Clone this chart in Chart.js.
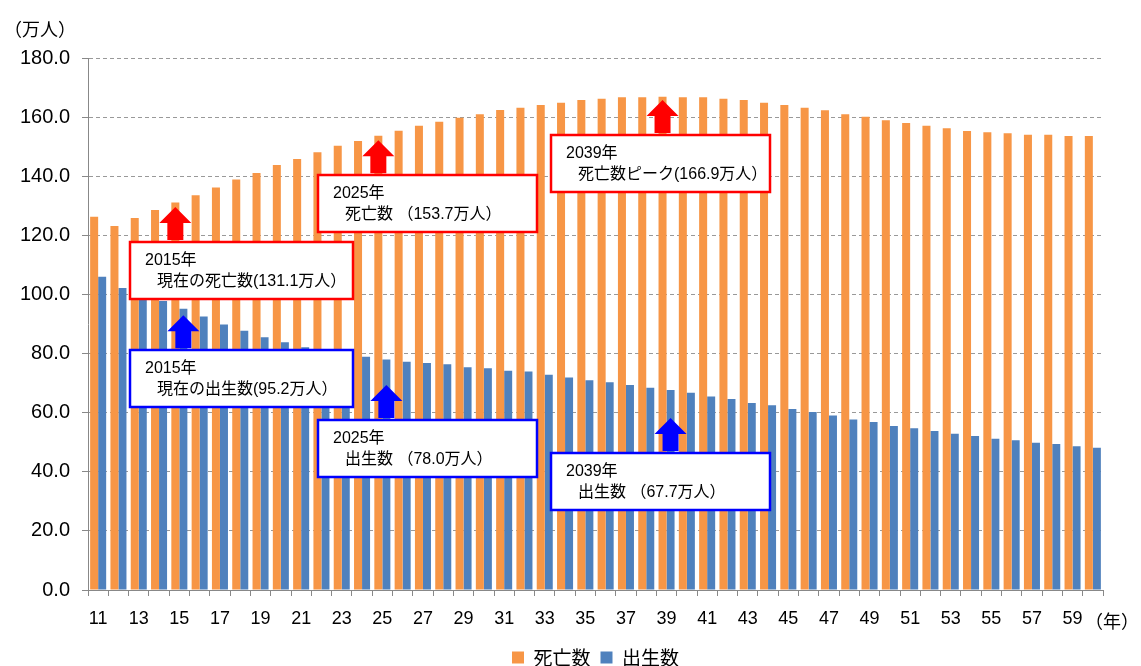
<!DOCTYPE html>
<html>
<head>
<meta charset="utf-8">
<script src="https://cdn.jsdelivr.net/npm/chart.js@4.4.1/dist/chart.umd.min.js"></script>
<style>
html, body { margin: 0; padding: 0; background: #fff; }
#wrap { width: 1141px; height: 666px; }
</style>
</head>
<body>
<div id="wrap"><canvas id="popChart"></canvas></div>
<script>
// 年（2011〜2060 の下2桁）
let years = ['11','12','13','14','15','16','17','18','19','20',
             '21','22','23','24','25','26','27','28','29','30',
             '31','32','33','34','35','36','37','38','39','40',
             '41','42','43','44','45','46','47','48','49','50',
             '51','52','53','54','55','56','57','58','59','60'];

// 死亡数（万人）
let deaths = [126.3, 123.2, 125.9, 128.6, 131.1, 133.6, 136.2, 138.9, 141.1, 143.8,
              145.8, 148.1, 150.3, 151.9, 153.7, 155.4, 157.1, 158.4, 159.8, 161.0,
              162.4, 163.2, 164.1, 164.9, 165.8, 166.2, 166.7, 166.7, 166.9, 166.7,
              166.7, 166.2, 165.8, 164.9, 164.1, 163.2, 162.3, 161.0, 160.1, 158.9,
              158.0, 157.1, 156.2, 155.3, 154.9, 154.5, 154.0, 154.0, 153.6, 153.6];

// 出生数（万人）
let births = [106.0, 102.2, 100.0, 97.8, 95.2, 92.5, 89.8, 87.7, 85.5, 83.8,
              82.1, 81.0, 79.9, 78.9, 78.0, 77.2, 76.8, 76.4, 75.4, 75.0,
              74.2, 73.9, 72.8, 71.9, 71.0, 70.3, 69.4, 68.4, 67.7, 66.7,
              65.5, 64.6, 63.3, 62.5, 61.2, 60.2, 59.0, 57.7, 56.8, 55.5,
              54.7, 53.8, 52.9, 52.1, 51.2, 50.7, 49.8, 49.4, 48.6, 48.1];

let seriesNames = ['死亡数', '出生数'];

// 吹き出し: 対象系列, 年の位置, 矢印先端の値, 箱の左端(カテゴリ位置)
let notes = [
    {series: 0, index: 4,  tip: 129.6, left: 1.57,  w: 223, color: '#FF0000', lines: ['2015年', '現在の死亡数(131.1万人）']},
    {series: 0, index: 14, tip: 152.2, left: 10.83, w: 219, color: '#FF0000', lines: ['2025年', '死亡数 （153.7万人）']},
    {series: 0, index: 28, tip: 165.8, left: 22.31, w: 219, color: '#FF0000', lines: ['2039年', '死亡数ピーク(166.9万人）']},
    {series: 1, index: 4,  tip: 93.0,  left: 1.57,  w: 223, color: '#0000FF', lines: ['2015年', '現在の出生数(95.2万人）']},
    {series: 1, index: 14, tip: 69.4,  left: 10.83, w: 219, color: '#0000FF', lines: ['2025年', '出生数 （78.0万人）']},
    {series: 1, index: 28, tip: 58.2,  left: 22.31, w: 219, color: '#0000FF', lines: ['2039年', '出生数 （67.7万人）']}
];

const JP = "'Noto Sans CJK JP'";

const notesPlugin = {
    id: 'notes',
    afterLayout(chart) {
        // 凡例はプロット領域の中央に
        const lg = chart.legend;
        lg.left = chart.chartArea.left;
        lg.right = chart.chartArea.right;
    },
    afterDatasetsDraw(chart) {
        const {ctx, scales: {x, y}} = chart;
        ctx.save();
        notes.forEach(n => {
            const bar = chart.getDatasetMeta(n.series).data[n.index];
            const ax = bar.x;
            const tipY = y.getPixelForValue(n.tip);
            // arrow
            ctx.fillStyle = n.color;
            ctx.beginPath();
            ctx.moveTo(ax, tipY);
            ctx.lineTo(ax + 16, tipY + 16);
            ctx.lineTo(ax + 8, tipY + 16);
            ctx.lineTo(ax + 8, tipY + 33);
            ctx.lineTo(ax - 8, tipY + 33);
            ctx.lineTo(ax - 8, tipY + 16);
            ctx.lineTo(ax - 16, tipY + 16);
            ctx.closePath();
            ctx.fill();
            // box
            const bx = Math.round(x.getPixelForValue(n.left));
            const by = Math.round(tipY + 35);
            ctx.fillStyle = '#fff';
            ctx.fillRect(bx, by, n.w, 57);
            ctx.strokeStyle = n.color;
            ctx.lineWidth = 2.5;
            ctx.strokeRect(bx, by, n.w, 57);
            ctx.fillStyle = '#000';
            ctx.textBaseline = 'middle';
            ctx.textAlign = 'left';
            ctx.font = "16px 'Liberation Sans', " + JP;
            ctx.fillText(n.lines[0], bx + 15, by + 19);
            ctx.fillText(n.lines[1], bx + 27, by + 40);
        });
        // unit labels
        ctx.font = '18px ' + JP;
        ctx.textBaseline = 'middle';
        ctx.fillText('（万人）', 4, 29);
        ctx.fillText('（年）', x.right - 18, 621);
        ctx.restore();
    }
};

let popChart = new Chart(document.getElementById('popChart'), {
    type: 'bar',
    data: {
        labels: years,
        datasets: [
            {label: seriesNames[0], data: deaths, backgroundColor: '#F79646', borderWidth: 0},
            {label: seriesNames[1], data: births, backgroundColor: '#4F81BD', borderWidth: 0}
        ]
    },
    options: {
        responsive: true,
        maintainAspectRatio: false,
        animation: false,
        layout: {padding: {top: 58, left: 8, right: 38, bottom: 0}},
        datasets: {bar: {categoryPercentage: 0.79, barPercentage: 1.0}},
        scales: {
            x: {
                grid: {drawOnChartArea: false, drawTicks: true, tickLength: 6, color: '#888', offset: true},
                border: {display: true, color: '#888', width: 1},
                ticks: {
                    autoSkip: false, maxRotation: 0, padding: 12, color: '#000',
                    font: {family: "'Liberation Sans'", size: 18},
                    callback: function (v, i) { return i % 2 === 0 ? this.getLabelForValue(v) : ''; }
                },
                afterFit: s => { s.height = 48; }
            },
            y: {
                min: 0,
                max: 180,
                ticks: {
                    stepSize: 20, padding: 12, color: '#000',
                    font: {family: "'Liberation Sans'", size: 20},
                    callback: v => v.toFixed(1)
                },
                grid: {color: '#999', lineWidth: 1, tickLength: 6, tickColor: '#888'},
                border: {display: true, color: '#888', width: 1, dash: [4, 3]},
                afterFit: s => { s.width = 80; }
            }
        },
        plugins: {
            legend: {
                position: 'bottom',
                maxHeight: 28,
                labels: {
                    boxWidth: 12, boxHeight: 12, padding: 10, color: '#000',
                    font: {family: JP, size: 19}
                }
            },
            tooltip: {enabled: false}
        }
    },
    plugins: [notesPlugin]
});
</script>
</body>
</html>
